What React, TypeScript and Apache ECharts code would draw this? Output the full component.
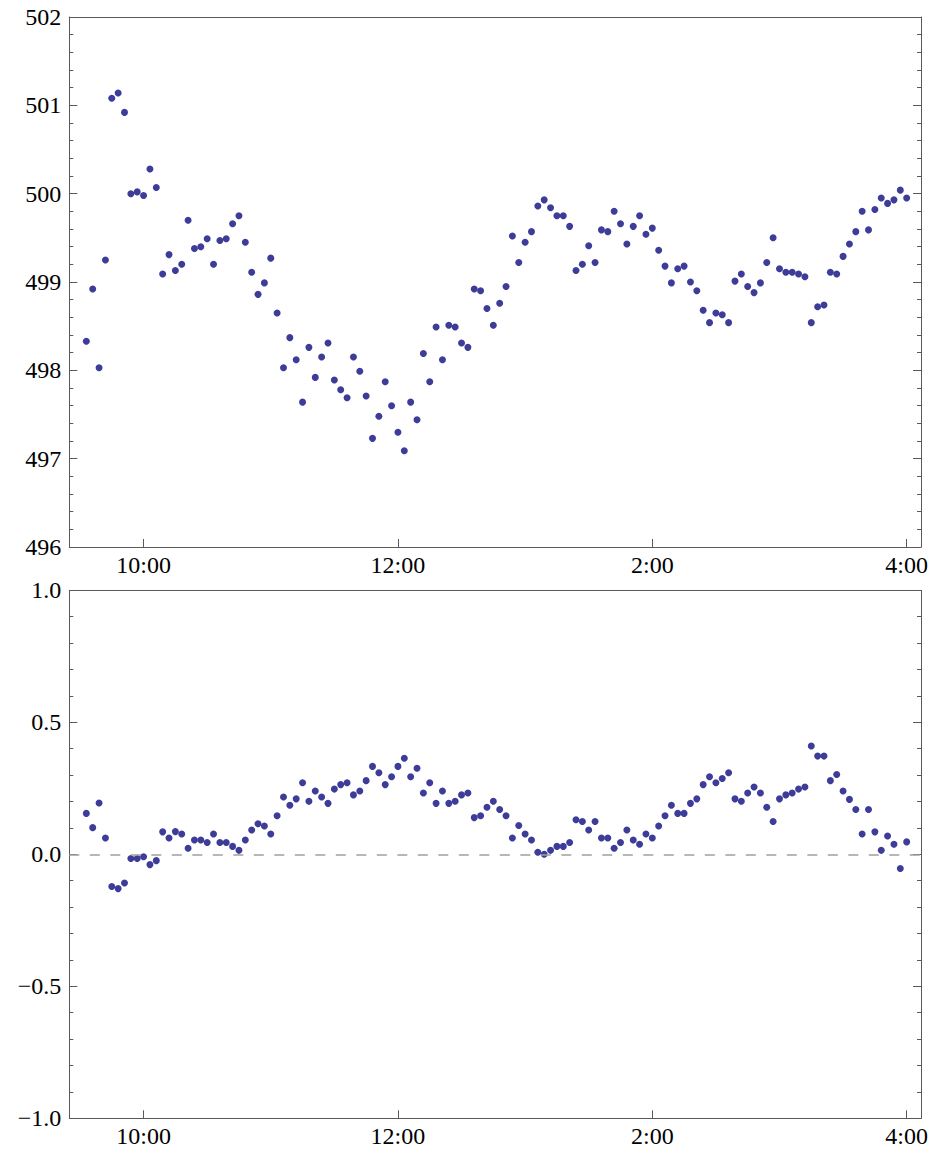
import React, { useEffect, useRef } from "react";
import * as echarts from "echarts";

// Sample times (every 3 minutes, 9:33 to 16:00)
const times: string[] = [
  "09:33", "09:36", "09:39", "09:42", "09:45", "09:48", "09:51", "09:54", "09:57",
  "10:00", "10:03", "10:06", "10:09", "10:12", "10:15", "10:18", "10:21", "10:24", "10:27",
  "10:30", "10:33", "10:36", "10:39", "10:42", "10:45", "10:48", "10:51", "10:54", "10:57",
  "11:00", "11:03", "11:06", "11:09", "11:12", "11:15", "11:18", "11:21", "11:24", "11:27",
  "11:30", "11:33", "11:36", "11:39", "11:42", "11:45", "11:48", "11:51", "11:54", "11:57",
  "12:00", "12:03", "12:06", "12:09", "12:12", "12:15", "12:18", "12:21", "12:24", "12:27",
  "12:30", "12:33", "12:36", "12:39", "12:42", "12:45", "12:48", "12:51", "12:54", "12:57",
  "13:00", "13:03", "13:06", "13:09", "13:12", "13:15", "13:18", "13:21", "13:24", "13:27",
  "13:30", "13:33", "13:36", "13:39", "13:42", "13:45", "13:48", "13:51", "13:54", "13:57",
  "14:00", "14:03", "14:06", "14:09", "14:12", "14:15", "14:18", "14:21", "14:24", "14:27",
  "14:30", "14:33", "14:36", "14:39", "14:42", "14:45", "14:48", "14:51", "14:54", "14:57",
  "15:00", "15:03", "15:06", "15:09", "15:12", "15:15", "15:18", "15:21", "15:24", "15:27",
  "15:30", "15:33", "15:36", "15:39", "15:42", "15:45", "15:48", "15:51", "15:54", "15:57",
  "16:00",
];

const priceValues: number[] = [
  498.33, 498.92, 498.03, 499.25, 501.08, 501.14, 500.92, 500.0, 500.02, 499.98,
  500.28, 500.07, 499.09, 499.31, 499.13, 499.2, 499.7, 499.38, 499.4, 499.49,
  499.2, 499.47, 499.49, 499.66, 499.75, 499.45, 499.11, 498.86, 498.99, 499.27,
  498.65, 498.03, 498.37, 498.12, 497.64, 498.26, 497.92, 498.15, 498.31, 497.89,
  497.78, 497.69, 498.15, 497.99, 497.71, 497.23, 497.48, 497.87, 497.6, 497.3,
  497.09, 497.64, 497.44, 498.19, 497.87, 498.49, 498.12, 498.51, 498.49, 498.31,
  498.26, 498.92, 498.9, 498.7, 498.51, 498.76, 498.95, 499.52, 499.22, 499.45,
  499.57, 499.86, 499.93, 499.84, 499.75, 499.75, 499.63, 499.13, 499.2, 499.41,
  499.22, 499.59, 499.57, 499.8, 499.66, 499.43, 499.63, 499.75, 499.54, 499.61,
  499.36, 499.18, 498.99, 499.15, 499.18, 499.0, 498.9, 498.68, 498.54, 498.65,
  498.63, 498.54, 499.01, 499.09, 498.95, 498.88, 498.99, 499.22, 499.5, 499.15,
  499.11, 499.11, 499.09, 499.06, 498.54, 498.72, 498.74, 499.11, 499.09, 499.29,
  499.43, 499.57, 499.8, 499.59, 499.82, 499.95, 499.89, 499.93, 500.04, 499.95,
];

const deviationValues: number[] = [
  0.155, 0.101, 0.194, 0.062, -0.122, -0.13, -0.109, -0.016, -0.016, -0.009,
  -0.039, -0.024, 0.085, 0.062, 0.086, 0.077, 0.023, 0.054, 0.054, 0.045,
  0.077, 0.045, 0.045, 0.03, 0.015, 0.054, 0.092, 0.116, 0.107, 0.077,
  0.146, 0.217, 0.186, 0.21, 0.271, 0.201, 0.24, 0.217, 0.193, 0.247,
  0.264, 0.271, 0.225, 0.24, 0.279, 0.333, 0.309, 0.264, 0.294, 0.333,
  0.364, 0.294, 0.326, 0.232, 0.271, 0.193, 0.24, 0.193, 0.201, 0.225,
  0.232, 0.139, 0.146, 0.178, 0.201, 0.17, 0.146, 0.062, 0.109, 0.077,
  0.054, 0.008, 0.0, 0.015, 0.03, 0.03, 0.045, 0.131, 0.124, 0.092,
  0.124, 0.062, 0.062, 0.023, 0.045, 0.092, 0.054, 0.038, 0.077, 0.062,
  0.107, 0.146, 0.186, 0.155, 0.155, 0.193, 0.21, 0.264, 0.294, 0.271,
  0.287, 0.309, 0.21, 0.201, 0.232, 0.255, 0.232, 0.178, 0.124, 0.21,
  0.225, 0.232, 0.247, 0.255, 0.41, 0.372, 0.372, 0.279, 0.302, 0.24,
  0.208, 0.17, 0.077, 0.17, 0.085, 0.015, 0.069, 0.038, -0.054, 0.047,
];

const xTickValues: number[] = [10, 12, 14, 16];
const xTickLabels: string[] = ["10:00", "12:00", "2:00", "4:00"];

const toHours = (t: string): number => {
  const [h, m] = t.split(":").map(Number);
  return h + m / 60;
};

const FONT = "'Liberation Serif', 'Times New Roman', Times, serif";
const FRAME = "#5a5a5a";
const DOT = "#3d3d99";

export default function App() {
  const ref = useRef<HTMLDivElement>(null);

  useEffect(() => {
    if (!ref.current) return;
    const chart = echarts.init(ref.current, undefined, { renderer: "svg" });
    const xs = times.map(toHours);
    const topData = xs.map((x, i) => [x, priceValues[i]]);
    const botData = xs.map((x, i) => [x, deviationValues[i]]);

    const xMin = 9.416;
    const xMax = 16.113;

    const labelStyle = { fontFamily: FONT, fontSize: 24, color: "#000" };

    const makeX = (gridIndex: number) => [
      {
        type: "value",
        gridIndex,
        position: "bottom",
        min: xMin,
        max: xMax,
        axisLine: { show: true, onZero: false, lineStyle: { color: FRAME, width: 1 } },
        axisTick: {
          show: true,
          inside: true,
          length: 8,
          customValues: xTickValues,
          lineStyle: { color: FRAME, width: 1 },
        },
        axisLabel: {
          ...labelStyle,
          margin: 6,
          customValues: xTickValues,
          formatter: (v: number) => {
            const idx = xTickValues.findIndex((t) => Math.abs(t - v) < 1e-6);
            return idx >= 0 ? xTickLabels[idx] : "";
          },
        },
        splitLine: { show: false },
      },
      {
        type: "value",
        gridIndex,
        position: "top",
        min: xMin,
        max: xMax,
        axisLine: { show: true, onZero: false, lineStyle: { color: FRAME, width: 1 } },
        axisTick: { show: false },
        axisLabel: { show: false },
        splitLine: { show: false },
      },
    ];

    const makeY = (
      gridIndex: number,
      min: number,
      max: number,
      interval: number,
      fmt: (v: number) => string
    ) => [
      {
        type: "value",
        gridIndex,
        position: "left",
        min,
        max,
        interval,
        axisLine: { show: true, onZero: false, lineStyle: { color: FRAME, width: 1 } },
        axisTick: { show: true, inside: true, length: 8, lineStyle: { color: FRAME, width: 1 } },
        minorTick: { show: true, splitNumber: 5, length: 4, lineStyle: { color: FRAME, width: 1 } },
        axisLabel: { ...labelStyle, margin: 8, formatter: fmt },
        splitLine: { show: false },
        minorSplitLine: { show: false },
      },
      {
        type: "value",
        gridIndex,
        position: "right",
        min,
        max,
        interval,
        axisLine: { show: true, onZero: false, lineStyle: { color: FRAME, width: 1 } },
        axisTick: { show: true, inside: true, length: 8, lineStyle: { color: FRAME, width: 1 } },
        minorTick: { show: true, splitNumber: 5, length: 4, lineStyle: { color: FRAME, width: 1 } },
        axisLabel: { show: false },
        splitLine: { show: false },
        minorSplitLine: { show: false },
      },
    ];

    const option: any = {
      animation: false,
      backgroundColor: "#fff",
      grid: [
        { left: 69.3, top: 17, width: 853.4, height: 530, containLabel: false },
        { left: 69.3, top: 590.3, width: 853.4, height: 528, containLabel: false },
      ],
      xAxis: [...makeX(0), ...makeX(1)],
      yAxis: [
        ...makeY(0, 496, 502, 1, (v: number) => String(v)),
        ...makeY(1, -1, 1, 0.5, (v: number) => v.toFixed(1).replace("-", "\u2212")),
      ],
      series: [
        {
          type: "scatter",
          xAxisIndex: 0,
          yAxisIndex: 0,
          data: topData,
          symbolSize: 7,
          itemStyle: { color: DOT, opacity: 1 },
          silent: true,
        },
        {
          type: "scatter",
          xAxisIndex: 2,
          yAxisIndex: 2,
          data: botData,
          symbolSize: 7,
          itemStyle: { color: DOT, opacity: 1 },
          silent: true,
          markLine: {
            silent: true,
            symbol: ["none", "none"],
            label: { show: false },
            lineStyle: { color: "#a0a0a0", type: [10, 10.5], width: 1.5 },
            data: [{ yAxis: 0 }],
          },
        },
      ],
    };

    chart.setOption(option);
    return () => chart.dispose();
  }, []);

  return (
    <div
      ref={ref}
      style={{ position: "fixed", left: 0, top: 0, width: 931, height: 1152, background: "#fff" }}
    />
  );
}
